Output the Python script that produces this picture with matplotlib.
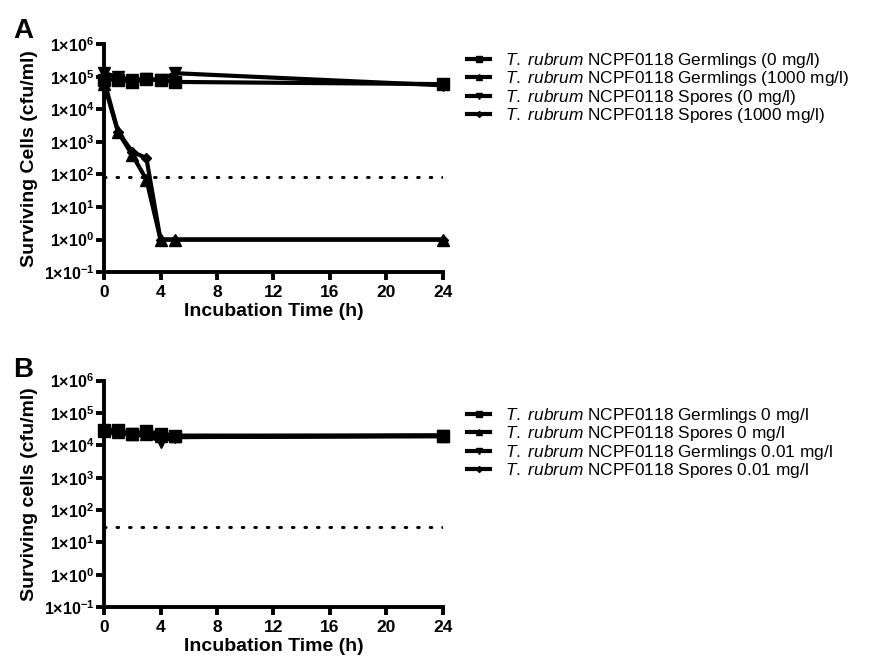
import math

import matplotlib
matplotlib.use("Agg")
import matplotlib.pyplot as plt
from matplotlib.ticker import FixedLocator, FuncFormatter, NullLocator

plt.rcParams['font.family'] = ['Liberation Sans', 'DejaVu Sans']
plt.rcParams['mathtext.fontset'] = 'custom'
plt.rcParams['mathtext.rm'] = 'Liberation Sans'
plt.rcParams['mathtext.it'] = 'Liberation Sans:italic'
plt.rcParams['mathtext.bf'] = 'Liberation Sans:bold'

hours = [0, 1, 2, 3, 4, 5, 24]

# panel A
a_germ_0 = [8.3e4, 8.3e4, 7.0e4, 8.5e4, 8.0e4, 7.0e4, 6.0e4]
a_germ_1000 = [6.0e4, 2.0e3, 4.0e2, 70, 1, 1, 1]
a_spore_0 = [1.3e5, 1.0e5, 8.0e4, 8.5e4, 8.0e4, 1.3e5, 5.5e4]
a_spore_1000 = [8.0e4, 2.0e3, 5.0e2, 3.2e2, 1, 1, 1]
a_limit = 85
a_labels = ["Germlings (0 mg/l)", "Germlings (1000 mg/l)",
            "Spores (0 mg/l)", "Spores (1000 mg/l)"]

# panel B
b_germ_0 = [3.0e4, 3.0e4, 2.3e4, 2.7e4, 2.3e4, 2.0e4, 2.0e4]
b_spore_0 = [2.7e4, 2.6e4, 2.2e4, 2.3e4, 1.9e4, 1.9e4, 2.0e4]
b_germ_001 = [2.5e4, 2.5e4, 2.2e4, 2.2e4, 1.3e4, 1.8e4, 1.9e4]
b_spore_001 = [2.6e4, 2.4e4, 2.1e4, 2.1e4, 1.7e4, 1.8e4, 2.0e4]
b_limit = 30
b_labels = ["Germlings 0 mg/l", "Spores 0 mg/l",
            "Germlings 0.01 mg/l", "Spores 0.01 mg/l"]

markers = ['s', '^', 'v', 'D']
msizes = [9, 9, 9, 5.5]

fig = plt.figure(figsize=(8.77, 6.62), dpi=100)
axA = fig.add_axes([0.1186, 0.589, 0.3865, 0.344])
axB = fig.add_axes([0.1186, 0.083, 0.3865, 0.342])


def sci(v, pos):
    e = int(round(math.log10(v)))
    return r'$\mathbf{1}$' + '\u00d7' + r'$\mathbf{10^{%d}}$' % e


def style(ax, ylabel, letter, letter_y):
    ax.set_yscale('log')
    ax.set_ylim(0.1, 1e6)
    ax.set_xlim(0, 24)
    ax.spines['top'].set_visible(False)
    ax.spines['right'].set_visible(False)
    for s in ['left', 'bottom']:
        ax.spines[s].set_linewidth(2.8)
    ax.yaxis.set_major_locator(FixedLocator([10.0 ** k for k in range(-1, 7)]))
    ax.yaxis.set_minor_locator(NullLocator())
    ax.yaxis.set_major_formatter(FuncFormatter(sci))
    ax.set_xticks([0, 4, 8, 12, 16, 20, 24])
    ax.tick_params(width=2.8, length=6)
    ax.tick_params(axis='x', labelsize=12.5)
    ax.tick_params(axis='y', labelsize=11.5, pad=1)
    for t in ax.get_xticklabels() + ax.get_yticklabels():
        t.set_fontweight('bold')
    ax.set_xlabel('Incubation Time (h)', fontsize=14, fontweight='bold', labelpad=2)
    ax.set_ylabel(ylabel, fontsize=14, fontweight='bold')
    ax.text(-0.268, letter_y, letter, transform=ax.transAxes, fontsize=20,
            fontweight='bold', va='baseline', ha='left')


def draw(ax, series, labels, limit, legend_top):
    for vals, m, ms, lab in zip(series, markers, msizes, labels):
        ax.plot(hours, vals, color='black', lw=3, marker=m, ms=ms,
                clip_on=False, zorder=3,
                label=r'$\it{T.\ rubrum}$' + ' NCPF0118 ' + lab)
    ax.plot([0, 24], [limit, limit], color='black', lw=2.2,
            linestyle=(0, (0.5, 3.6)), dash_capstyle='round')
    fig.legend(handles=ax.get_lines()[:4], loc='upper left',
               bbox_to_anchor=(467 / 877, 1 - legend_top / 662),
               frameon=False, fontsize=12.4, handlelength=1.35,
               handletextpad=0.85, labelspacing=-0.04, markerscale=0.55,
               borderaxespad=0, borderpad=0)


draw(axA, [a_germ_0, a_germ_1000, a_spore_0, a_spore_1000], a_labels, a_limit, 51)
draw(axB, [b_germ_0, b_spore_0, b_germ_001, b_spore_001], b_labels, b_limit, 406)
style(axA, 'Surviving Cells (cfu/ml)', 'A', 1.03)
style(axB, 'Surviving cells (cfu/ml)', 'B', 1.018)

fig.savefig('out.png', dpi=100)
